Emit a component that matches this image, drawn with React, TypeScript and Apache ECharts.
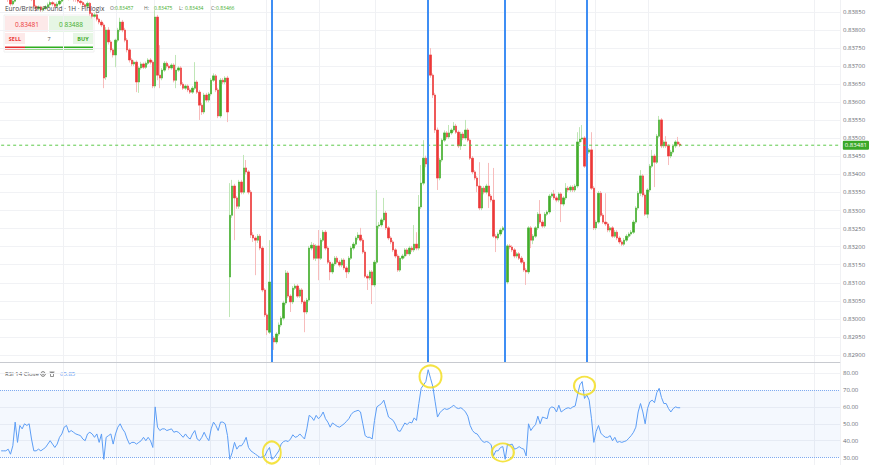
import React, { useEffect, useRef } from "react";
import * as echarts from "echarts";

// Candles: [open, close, low, high] in points, price = 0.80000 + pts / 100000
const candlesPts: number[][] = [
  [3912,3905,3898,3918],[3905,3898,3892,3910],[3898,3890,3884,3902],[3890,3884,3878,3895],[3884,3872,3866,3888],[3872,3880,3868,3886],[3880,3902,3876,3908],[3902,3888,3884,3905],[3888,3898,3883,3903],[3898,3894,3889,3902],
  [3894,3900,3890,3906],[3900,3896,3891,3904],[3896,3899,3892,3905],[3899,3884,3880,3902],[3884,3866,3860,3888],[3866,3860,3852,3870],[3860,3864,3856,3868],[3864,3856,3850,3867],[3856,3860,3851,3865],[3860,3864,3855,3869],
  [3864,3870,3860,3876],[3870,3876,3864,3882],[3876,3872,3866,3880],[3872,3866,3861,3876],[3866,3872,3862,3878],[3872,3880,3868,3886],[3880,3886,3874,3892],[3886,3894,3881,3899],[3894,3896,3888,3902],[3896,3888,3882,3900],
  [3888,3890,3883,3895],[3890,3886,3879,3894],[3886,3884,3878,3890],[3884,3880,3874,3888],[3880,3876,3870,3884],[3876,3870,3864,3880],[3870,3866,3860,3874],[3866,3874,3862,3879],[3874,3846,3840,3877],[3846,3838,3832,3850],
  [3838,3842,3834,3848],[3842,3830,3824,3846],[3830,3822,3816,3834],[3822,3814,3808,3828],[3814,3667,3639,3820],[3670,3800,3662,3808],[3800,3767,3760,3808],[3767,3745,3738,3772],[3745,3731,3724,3750],[3731,3772,3697,3776],
  [3772,3800,3766,3806],[3800,3822,3795,3834],[3822,3800,3794,3828],[3800,3772,3766,3806],[3772,3745,3738,3778],[3745,3717,3710,3750],[3717,3706,3700,3722],[3706,3711,3700,3716],[3711,3656,3628,3716],[3656,3695,3626,3700],
  [3695,3706,3690,3712],[3706,3697,3692,3710],[3697,3708,3692,3713],[3708,3717,3703,3722],[3717,3711,3705,3722],[3711,3645,3639,3716],[3645,3836,3639,3855],[3836,3675,3661,3842],[3675,3667,3639,3758],[3667,3689,3661,3695],
  [3689,3708,3684,3714],[3708,3700,3694,3713],[3700,3695,3689,3705],[3695,3703,3690,3708],[3703,3661,3655,3708],[3661,3689,3639,3731],[3689,3695,3684,3700],[3695,3650,3645,3700],[3650,3639,3634,3656],[3639,3645,3634,3650],
  [3645,3634,3628,3650],[3634,3628,3623,3640],[3628,3639,3623,3645],[3639,3656,3634,3711],[3656,3628,3623,3661],[3628,3592,3551,3634],[3592,3573,3565,3598],[3573,3620,3567,3626],[3620,3606,3600,3626],[3606,3623,3600,3628],
  [3623,3661,3617,3667],[3661,3673,3656,3680],[3673,3634,3628,3678],[3634,3562,3556,3640],[3562,3661,3556,3667],[3661,3656,3650,3667],[3656,3667,3650,3672],[3667,3573,3545,3673],[3116,3287,3005,3376],[3287,3368,3280,3385],
  [3368,3335,3218,3374],[3335,3312,3305,3340],[3312,3379,3305,3385],[3379,3351,3345,3385],[3351,3418,3345,3454],[3418,3407,3400,3440],[3407,3351,3345,3412],[3351,3232,3224,3357],[3232,3224,3213,3240],[3224,3218,3121,3229],
  [3218,3229,3210,3235],[3229,3196,3190,3235],[3196,3080,3074,3202],[3080,3011,3005,3085],[3011,2969,2955,3016],[2963,3102,2958,3218],[3102,2947,2927,3107],[2947,2936,2914,2952],[2936,2958,2930,2963],[2958,2983,2952,2990],
  [2983,3002,2977,3008],[3002,3044,2996,3050],[3044,3127,3038,3135],[3127,3063,3058,3132],[3063,3047,3019,3068],[3047,3085,3041,3091],[3085,3091,3080,3097],[3091,3063,3058,3096],[3063,3080,3058,3085],[3080,3047,3041,3085],
  [3047,3019,2963,3052],[3019,3052,3013,3058],[3052,3196,3047,3202],[3196,3204,3190,3213],[3204,3168,3163,3210],[3168,3202,3160,3207],[3202,3168,3107,3246],[3168,3218,3163,3224],[3218,3240,3213,3246],[3240,3196,3190,3246],
  [3196,3157,3152,3202],[3157,3130,3107,3163],[3130,3152,3124,3157],[3152,3168,3146,3174],[3168,3157,3152,3174],[3157,3149,3143,3163],[3149,3163,3143,3168],[3163,3141,3135,3168],[3141,3130,3113,3146],[3130,3168,3124,3174],
  [3168,3196,3163,3202],[3196,3207,3190,3213],[3207,3224,3202,3229],[3224,3232,3218,3240],[3232,3218,3213,3252],[3218,3185,3180,3224],[3185,3118,3113,3190],[3118,3113,3080,3124],[3113,3130,3107,3135],[3130,3094,3041,3135],
  [3094,3157,3088,3163],[3157,3257,3152,3357],[3257,3260,3250,3268],[3260,3274,3254,3280],[3274,3293,3268,3335],[3293,3252,3246,3299],[3252,3224,3218,3257],[3224,3213,3207,3229],[3213,3191,3185,3218],[3191,3174,3168,3196],
  [3174,3135,3130,3180],[3135,3168,3130,3174],[3168,3174,3163,3180],[3174,3191,3168,3196],[3191,3180,3174,3196],[3180,3196,3174,3202],[3196,3191,3185,3202],[3191,3207,3185,3260],[3207,3196,3190,3240],[3196,3310,3190,3343],
  [3310,3376,3304,3426],[3376,3445,3370,3495],[3445,3429,3420,3452],[3429,3731,3423,3756],[3731,3675,3668,3750],[3675,3620,3612,3680],[3620,3523,3515,3626],[3523,3390,3357,3530],[3390,3440,3384,3446],[3440,3495,3434,3500],
  [3495,3515,3490,3522],[3515,3504,3498,3520],[3504,3515,3498,3537],[3515,3523,3510,3528],[3523,3534,3518,3545],[3534,3517,3512,3540],[3517,3479,3473,3522],[3479,3512,3468,3518],[3512,3501,3495,3518],[3501,3523,3495,3551],
  [3523,3495,3490,3528],[3495,3445,3440,3500],[3445,3407,3401,3451],[3407,3390,3384,3412],[3390,3368,3351,3396],[3368,3307,3301,3434],[3307,3362,3301,3368],[3362,3351,3345,3368],[3351,3368,3345,3374],[3368,3340,3307,3432],
  [3340,3329,3323,3346],[3329,3229,3224,3418],[3229,3224,3185,3235],[3224,3235,3218,3240],[3235,3246,3229,3252],[3246,3252,3240,3257],[3252,3102,3080,3257],[3102,3202,3096,3207],[3202,3199,3193,3207],[3199,3191,3185,3204],
  [3191,3174,3168,3196],[3174,3180,3168,3185],[3180,3168,3163,3185],[3168,3157,3152,3174],[3157,3135,3130,3163],[3135,3130,3094,3141],[3130,3252,3124,3257],[3252,3218,3196,3257],[3218,3229,3207,3235],[3229,3252,3224,3257],
  [3252,3290,3246,3296],[3290,3268,3263,3329],[3268,3257,3252,3274],[3257,3290,3252,3296],[3290,3296,3285,3301],[3296,3340,3290,3346],[3340,3346,3335,3351],[3346,3335,3329,3357],[3335,3329,3323,3340],[3329,3346,3323,3351],
  [3346,3318,3268,3351],[3318,3335,3312,3340],[3335,3362,3329,3376],[3362,3357,3351,3368],[3357,3365,3351,3370],[3365,3357,3351,3370],[3357,3368,3351,3374],[3368,3490,3362,3517],[3490,3498,3484,3531],[3498,3501,3490,3537],
  [3501,3423,3418,3506],[3423,3462,3418,3468],[3462,3468,3457,3473],[3468,3362,3357,3517],[3362,3252,3246,3368],[3252,3268,3246,3274],[3268,3348,3263,3354],[3348,3287,3282,3354],[3287,3268,3263,3293],[3268,3263,3257,3348],
  [3263,3246,3240,3268],[3246,3252,3240,3257],[3252,3229,3224,3257],[3229,3240,3224,3246],[3240,3224,3218,3246],[3224,3213,3207,3229],[3213,3207,3202,3218],[3207,3218,3202,3224],[3218,3229,3213,3235],[3229,3235,3224,3240],
  [3235,3240,3229,3246],[3240,3268,3235,3274],[3268,3307,3263,3312],[3307,3348,3301,3354],[3348,3396,3340,3412],[3396,3343,3337,3401],[3343,3290,3285,3348],[3290,3357,3279,3362],[3357,3423,3351,3429],[3423,3451,3418,3468],
  [3451,3434,3365,3457],[3434,3506,3429,3512],[3506,3551,3501,3562],[3551,3479,3473,3556],[3479,3490,3473,3495],[3490,3479,3473,3506],[3479,3451,3426,3484],[3451,3462,3445,3468],[3462,3479,3457,3484],[3479,3490,3473,3495],
  [3490,3484,3479,3504],[3484,3481,3476,3490],
];

// RSI 14 (close) per candle
const rsiValues: number[] = [
  34, 34, 34, 35, 32, 37, 51, 39, 49, 47,
  50, 49, 50, 41, 34, 34, 35, 34, 35, 36,
  38, 40, 38, 36, 38, 42, 44, 48, 49, 45,
  46, 45, 44, 43.5, 43, 41, 40, 44, 45, 44,
  42, 44, 39, 44, 29, 42, 43, 44, 38, 44,
  48, 50, 47, 45, 41, 38, 39, 39, 38, 39,
  40, 42, 40, 42, 40, 36, 60, 48, 46, 47,
  47, 46, 46.5, 47, 45, 45.5, 45, 43.5, 42, 44,
  42, 41, 44, 46, 41, 40, 42, 45, 42, 40,
  47, 51, 49, 46, 51, 51, 50, 43, 29, 33,
  39, 35, 37, 37, 39, 42, 36, 34, 33, 32,
  31, 30, 30.5, 31, 34, 36, 29, 30, 32, 34,
  38, 39.5, 40, 39.5, 41, 43.5, 42, 42.5, 44, 42.5,
  41, 47, 55, 54, 52, 55, 53, 54.5, 57, 53,
  51, 48, 50.5, 49.5, 48.5, 48, 49, 50, 51.5, 53,
  55.5, 57, 57.5, 58, 57, 50, 43, 42, 42, 41,
  52, 60, 61, 62, 64, 59, 54, 53, 52, 49.5,
  46, 45.5, 48, 50.5, 49.5, 51, 50.5, 53.5, 52, 62,
  71, 73, 75, 82, 77, 72, 63, 54, 56.5, 58,
  59, 58.5, 59, 60, 61, 59.5, 59, 59.5, 58.5, 57,
  54.5, 49, 46, 44.5, 44, 42, 40, 39, 39.5, 39,
  37.5, 31, 34, 34, 36, 36.5, 29, 38, 37.5, 38,
  35, 35.5, 36.5, 35.5, 35, 31, 50, 46, 48, 49.5,
  54.5, 50, 54, 53.5, 53, 59, 60, 59.5, 57, 61,
  57, 58, 59, 59.5, 59, 60, 60.5, 67, 73, 75,
  65, 67, 64, 53, 39, 45.5, 49, 44.5, 43, 42,
  42, 43, 40, 42, 39, 39.5, 39, 39.5, 40, 41.5,
  43, 45, 48, 57, 62, 57, 50, 59, 63, 64,
  62.5, 68.5, 71, 65.5, 62, 62, 59, 57, 59, 60,
  59.5, 59.5,
];

const priceTicks = [
  0.829, 0.8295, 0.83, 0.8305, 0.831, 0.8315, 0.832, 0.8325, 0.833, 0.8335,
  0.834, 0.8345, 0.835, 0.8355, 0.836, 0.8365, 0.837, 0.8375, 0.838, 0.8385,
];
const rsiTicks = [30, 40, 50, 60, 70, 80];
const rsiGridLines = [40, 50, 60, 80];
const rsiBand = [30, 70];
const markerIdx = [116, 183, 216, 251];
const circleNotes = [[116, 33], [184, 78], [215, 33], [250, 72.5]];
const circleSizes = [[18, 22], [22, 22], [22, 18], [21, 18]];
const timeGridIdx = [27, 50, 66, 90, 114, 137, 161, 238, 255, 278, 349];
const lastPrice = 0.83481;
const slotCount = 360;
const legendKeys = ["O:", "H:", "L:", "C:"];
const legendValues = ["0.83457", "0.83475", "0.83434", "0.83466"];
const sellPrice = "0.83481";
const buyPrice = "0.83488";
const rsiLast = "65.85";

const GREEN = "#43ad2c";
const RED = "#ec3838";
const GREEN_W = "#bfe6b6";
const RED_W = "#f7bcbc";
const PRICE_LINE = "#5cc94a";
const FONT = "'Open Sans', 'Noto Sans', sans-serif";

export default function App() {
  const ref = useRef<HTMLDivElement>(null);

  useEffect(() => {
    if (!ref.current) return;
    const chart = echarts.init(ref.current, undefined, { renderer: "svg" });
    const toPrice = (v: number) => +(0.8 + v / 100000).toFixed(5);
    const ohlc = candlesPts.map((r) => r.map(toPrice));
    const bodies = ohlc.map(([o, c]) => [o, c, Math.min(o, c), Math.max(o, c)]);
    const slots = Array.from({ length: slotCount }, (_, i) => String(i));
    const vSplit = (idx: number) => timeGridIdx.includes(idx);

    const keyX = [110, 144, 179, 211];
    const valX = [115, 154, 185, 216];
    const legendGraphics: any[] = [];
    legendKeys.forEach((k, j) => {
      legendGraphics.push({
        type: "text", x: keyX[j], y: 8, z: 100,
        style: { text: k, fill: "#666", font: `5px ${FONT}`, textVerticalAlign: "middle" },
      });
      legendGraphics.push({
        type: "text", x: valX[j], y: 8, z: 100,
        style: { text: legendValues[j], fill: GREEN, font: `5px ${FONT}`, textVerticalAlign: "middle" },
      });
    });

    const option: any = {
      animation: false,
      backgroundColor: "#ffffff",
      textStyle: { fontFamily: FONT },
      grid: [
        { left: 0, right: 32, top: 0, height: 362 },
        { left: 0, right: 32, top: 363, height: 102 },
      ],
      xAxis: [
        {
          type: "category", gridIndex: 0, data: slots, boundaryGap: true,
          axisLabel: { show: false }, axisTick: { show: false },
          axisLine: { show: true, lineStyle: { color: "#c8cad0", width: 1 } },
          splitLine: { show: true, interval: vSplit, lineStyle: { color: "#f0f1f4", width: 1 } },
        },
        {
          type: "category", gridIndex: 1, data: slots, boundaryGap: true,
          axisLabel: { show: false }, axisTick: { show: false }, axisLine: { show: false },
          splitLine: { show: true, interval: vSplit, lineStyle: { color: "#f0f1f4", width: 1 } },
        },
      ],
      yAxis: [
        {
          type: "value", gridIndex: 0, position: "right", scale: true,
          min: 0.828805, max: 0.838832,
          axisLine: { show: false },
          axisTick: { show: false, customValues: priceTicks },
          axisLabel: {
            customValues: priceTicks, margin: 3, fontSize: 6, color: "#6b6e76",
            formatter: (v: number) => v.toFixed(5),
          },
          splitLine: { show: true, lineStyle: { color: "#f1f2f5", width: 1 } },
        },
        {
          type: "value", gridIndex: 1, position: "right",
          min: 25.62, max: 85.98,
          axisLine: { show: false },
          axisTick: { show: false, customValues: rsiGridLines },
          axisLabel: {
            customValues: rsiTicks, margin: 3, fontSize: 6, color: "#6b6e76",
            formatter: (v: number) => v.toFixed(2),
          },
          splitLine: { show: true, lineStyle: { color: "#f1f2f5", width: 1 } },
        },
      ],
      series: [
        {
          name: "wicks", type: "candlestick", xAxisIndex: 0, yAxisIndex: 0,
          data: ohlc, barWidth: 1.6, clip: true, silent: true,
          itemStyle: { color: GREEN_W, color0: RED_W, borderColor: GREEN_W, borderColor0: RED_W, borderWidth: 1 },
        },
        {
          name: "EURGBP", type: "candlestick", xAxisIndex: 0, yAxisIndex: 0,
          data: bodies, barWidth: 1.6, clip: true, silent: true,
          itemStyle: { color: GREEN, color0: RED, borderColor: GREEN, borderColor0: RED, borderWidth: 0.5 },
          markLine: {
            silent: true, symbol: ["none", "none"], animation: false, precision: 5,
            lineStyle: { color: "#3f8ef4", width: 2, type: "solid" },
            label: { show: false },
            data: markerIdx.map((i) => ({ xAxis: i })),
          },
        },
        {
          name: "Last price", type: "line", xAxisIndex: 0, yAxisIndex: 0, silent: true, z: 3,
          data: [
            { value: [0, lastPrice], symbol: "circle", symbolSize: 5, itemStyle: { color: "#c9e21a", borderWidth: 0 } },
            { value: [slotCount - 1, lastPrice], symbol: "none" },
          ],
          showSymbol: true,
          lineStyle: { color: PRICE_LINE, width: 1, type: [3, 3] },
          endLabel: {
            show: true, distance: 4,
            formatter: () => lastPrice.toFixed(5),
            backgroundColor: "#3aa829", color: "#ffffff",
            fontSize: 6, padding: [2, 2, 1, 2], borderRadius: 1,
          },
        },
        {
          name: "RSI 14", type: "line", xAxisIndex: 1, yAxisIndex: 1,
          data: rsiValues, symbol: "none", silent: true,
          lineStyle: { color: "#5c9df5", width: 1 },
          markArea: {
            silent: true,
            itemStyle: { color: "rgba(60,130,245,0.06)" },
            data: [[{ yAxis: rsiBand[0] }, { yAxis: rsiBand[1] }]],
          },
          markLine: {
            silent: true, symbol: ["none", "none"],
            lineStyle: { color: "#7eaaf0", width: 1, type: "dotted" },
            label: { show: false },
            data: rsiBand.map((v) => ({ yAxis: v })),
          },
        },
        {
          name: "notes", type: "scatter", xAxisIndex: 1, yAxisIndex: 1, silent: true,
          clip: false, z: 10,
          data: circleNotes.map((p, k) => ({ value: p, symbolSize: circleSizes[k] })),
          symbol: "circle",
          itemStyle: { color: "rgba(0,0,0,0)", borderColor: "#f3dc14", borderWidth: 2 },
        },
      ],
      graphic: [
        {
          type: "text", x: 5, y: 8, z: 100,
          style: { text: "Euro/British Pound · 1H · Finlogix", fill: "#444", font: `6.5px ${FONT}`, textVerticalAlign: "middle" },
        },
        ...legendGraphics,
        {
          type: "group", z: 100,
          children: [
            { type: "rect", shape: { x: 4, y: 15, width: 90, height: 37 }, style: { fill: "#ffffff", stroke: "#f0f0f0", lineWidth: 1 } },
            { type: "rect", shape: { x: 5, y: 16, width: 43, height: 16 }, style: { fill: "#fde9e9" } },
            { type: "rect", shape: { x: 49, y: 16, width: 44, height: 16 }, style: { fill: "#e6f6e4" } },
            { type: "text", x: 27, y: 24, style: { text: sellPrice, fill: RED, font: `6.5px ${FONT}`, textAlign: "center", textVerticalAlign: "middle" } },
            { type: "text", x: 71, y: 24, style: { text: buyPrice, fill: GREEN, font: `6.5px ${FONT}`, textAlign: "center", textVerticalAlign: "middle" } },
            { type: "rect", shape: { x: 5, y: 33, width: 20, height: 11 }, style: { fill: "#fde9e9" } },
            { type: "rect", shape: { x: 73, y: 33, width: 20, height: 11 }, style: { fill: "#e6f6e4" } },
            { type: "text", x: 15, y: 38.5, style: { text: "SELL", fill: RED, font: `bold 5.5px ${FONT}`, textAlign: "center", textVerticalAlign: "middle" } },
            { type: "text", x: 49, y: 38.5, style: { text: "7", fill: "#555", font: `5.5px ${FONT}`, textAlign: "center", textVerticalAlign: "middle" } },
            { type: "text", x: 83, y: 38.5, style: { text: "BUY", fill: GREEN, font: `bold 5.5px ${FONT}`, textAlign: "center", textVerticalAlign: "middle" } },
            { type: "rect", shape: { x: 5, y: 46.5, width: 20, height: 3 }, style: { fill: "#e52d2d", stroke: "none" } },
            { type: "rect", shape: { x: 25, y: 46.5, width: 68, height: 3 }, style: { fill: "#2fae1e", stroke: "none" } },
          ],
        },
        {
          type: "group", z: 100,
          children: [
            { type: "text", x: 5, y: 374, style: { text: "RSI 14 Close", fill: "#555", font: `6px ${FONT}`, textVerticalAlign: "middle" } },
            { type: "circle", shape: { cx: 43, cy: 374, r: 2.3 }, style: { fill: "none", stroke: "#777", lineWidth: 1 } },
            { type: "circle", shape: { cx: 43, cy: 374, r: 0.8 }, style: { fill: "#777" } },
            { type: "rect", shape: { x: 50.5, y: 372.5, width: 3, height: 4 }, style: { fill: "none", stroke: "#777", lineWidth: 0.8 } },
            { type: "line", shape: { x1: 49.5, y1: 372, x2: 54.5, y2: 372 }, style: { stroke: "#777", lineWidth: 0.8 } },
            { type: "text", x: 60, y: 374, style: { text: rsiLast, fill: "#4a8df0", font: `6px ${FONT}`, textVerticalAlign: "middle" } },
          ],
        },
      ],
    };

    chart.setOption(option);
    return () => chart.dispose();
  }, []);

  return (
    <div
      ref={ref}
      style={{ position: "fixed", left: 0, top: 0, width: 872, height: 465, background: "#ffffff" }}
    />
  );
}
